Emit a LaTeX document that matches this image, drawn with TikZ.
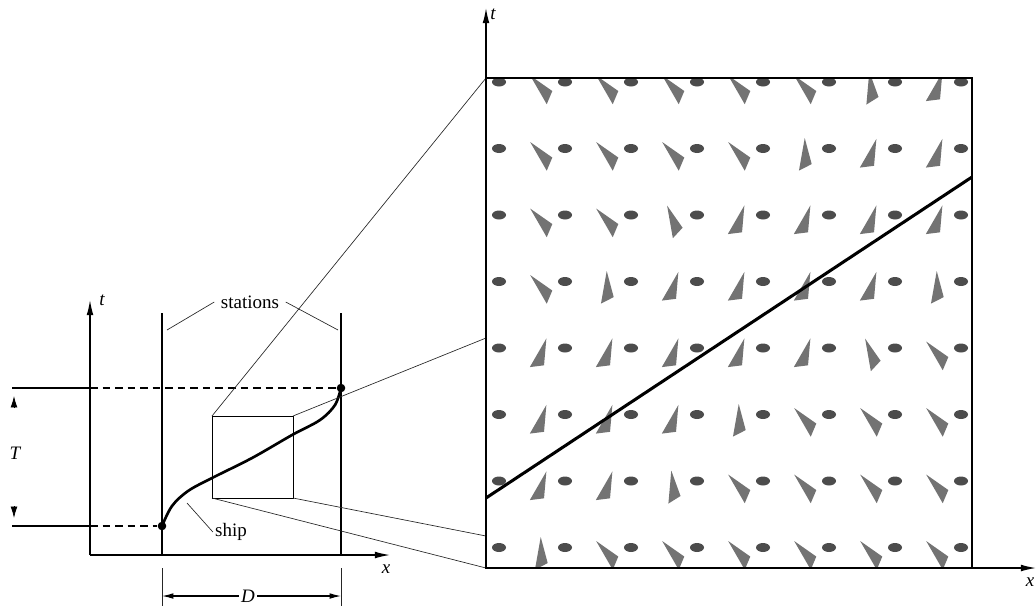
\documentclass[tikz,border=0pt]{standalone}
\usepackage{fontspec}
\setmainfont{Liberation Serif}
\usetikzlibrary{arrows.meta}

\begin{document}
\begin{tikzpicture}[x=0.0185cm,y=-0.0185cm,
  ax/.style={line width=0.7pt,-{Latex[length=8pt,width=3.6pt]}},
  st/.style={line width=1.1pt},
  ln/.style={line width=0.35pt,black!85},
  dsh/.style={line width=0.8pt,dash pattern=on 4pt off 2.6pt},
  dot/.style={circle,fill,inner sep=0pt,minimum size=4.5pt},
  lab/.style={font=\itshape,inner sep=1pt},
  dar/.style={line width=0.6pt,-{Latex[length=6pt,width=3pt]}},
  wg/.style={fill=black!55},
  bl/.style={fill=black!70}]
\useasboundingbox (0,0) rectangle (1036,606);
\coordinate (o) at (90,555);
\coordinate (s1t) at (162,313);\coordinate (s1b) at (162,555);
\coordinate (s2t) at (341,313);\coordinate (s2b) at (341,555);
\coordinate (zA) at (212,416);\coordinate (zB) at (293,416);
\coordinate (zC) at (293,498);\coordinate (zD) at (212,498);
\coordinate (bA) at (486,78);\coordinate (bC) at (972,568);\coordinate (o2) at (486,568);
\coordinate (zBe) at (486,338);\coordinate (zCe) at (486,536);
\draw[ax] (o) -- (90,300);
\draw[ax] (o) -- (390,555);
\node[lab] at (102,300) {t};
\node[lab] at (386,569) {x};
\draw[st] (s1t) -- (s1b);
\draw[st] (s2t) -- (s2b);
\node[dot] (dep) at (162,526) {};
\node[dot] (arr) at (341,388) {};
\draw[line width=0.6pt] (12,388) -- (90,388);
\draw[line width=0.6pt] (12,526) -- (90,526);
\draw[dsh] (90,388) -- (arr);
\draw[dsh] (90,526) -- (dep);
\draw[-{Latex[length=6pt,width=3.6pt]}] (14,408) -- (14,396);
\draw[-{Latex[length=6pt,width=3.6pt]}] (14,506) -- (14,518);
\node[lab] at (15,453) {T};
\draw[line width=1.4pt] plot[smooth,tension=0.55] coordinates {(dep) (172,506) (188,491) (212,478) (252,458) (292,435) (320,420) (335,405) (arr)};
\node (stl) at (250,302) {stations};
\draw[ln] (stl.west) -- (167,330);
\draw[ln] (stl.east) -- (338,330);
\node[inner sep=1pt] (shl) at (231,532) {ship};
\draw[ln] (187,503) -- (shl.west);
\draw[ln] (162,568) -- (162,606);
\draw[ln] (341,568) -- (341,606);
\node[lab] (dl) at (248,596) {D};
\draw[dar] (dl.west) -- (162,596);
\draw[dar] (dl.east) -- (341,596);
\draw[line width=0.5pt] (zA) rectangle (zC);
\draw[ln] (zA) -- (bA);
\draw[ln] (zB) -- (zBe);
\draw[ln] (zD) -- (o2);
\draw[ln] (zC) -- (zCe);
\begin{scope}
\clip (bA) rectangle (bC);
\foreach \row [count=\r] in {{55,55,55,55,55,55,20,-5},{55,55,55,55,55,15,-5,-5},{55,55,55,35,-5,-5,-5,-5},{55,55,15,-5,-5,-5,-5,15},{35,-5,-5,-5,-5,-5,35,55},{-5,-5,-5,-5,15,55,55,55},{-5,-5,-5,20,55,55,55,55},{-5,15,55,55,55,55,55,55}}
  \foreach \a [count=\c] in \row {
    \begin{scope}[shift={(409+66*\c,21.5+66.5*\r)}]
      \fill[wg,rotate=\a] (4,-16) -- (-10,14) -- (4,11) -- cycle;
      \fill[bl] (24,-6) ellipse (7 and 4.5);
    \end{scope}}
\end{scope}
\draw[line width=1.6pt] (486,498) -- (972,177);
\draw[line width=0.9pt] (bA) rectangle (bC);
\draw[ax] (o2) -- (486,8);
\draw[ax] (o2) -- (1036,568);
\node[lab] at (493,14) {t};
\node[lab] at (1030,582) {x};
\end{tikzpicture}
\end{document}
